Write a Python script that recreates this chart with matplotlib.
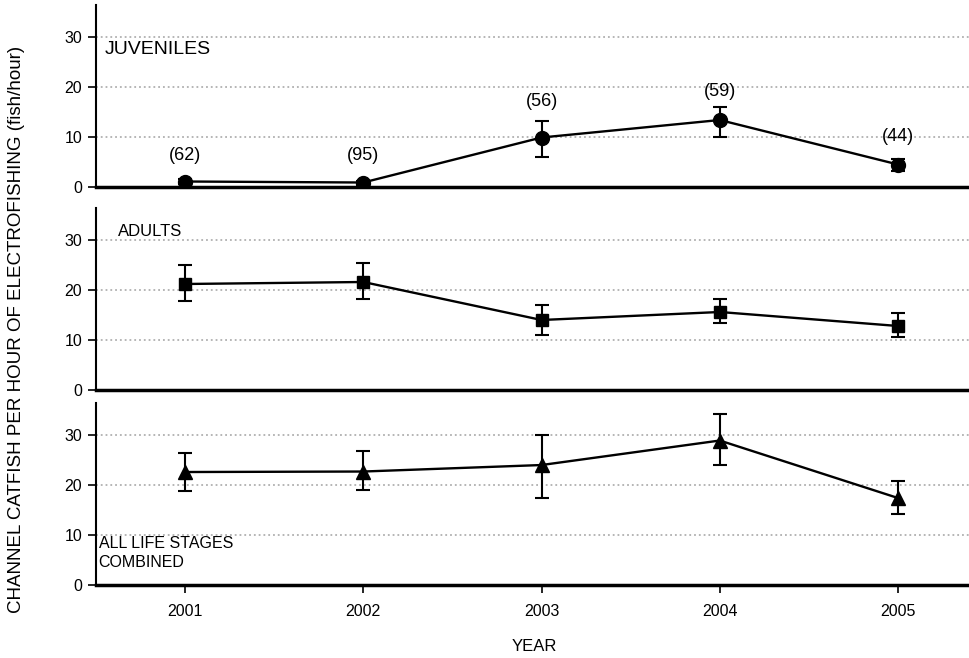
import matplotlib.pyplot as plt

plt.rcParams['font.family'] = ['Liberation Sans', 'DejaVu Sans']

years = [2001, 2002, 2003, 2004, 2005]

# juveniles
juv_mean = [1.1, 0.9, 9.9, 13.4, 4.5]
juv_low = [0.6, 0.5, 6.1, 10.1, 3.3]
juv_high = [1.6, 1.3, 13.3, 16.0, 5.6]
juv_n = ['(62)', '(95)', '(56)', '(59)', '(44)']
juv_n_y = [6.4, 6.4, 17.2, 19.2, 10.2]

# adults
adu_mean = [21.2, 21.6, 14.0, 15.6, 12.8]
adu_low = [17.7, 18.1, 10.9, 13.3, 10.5]
adu_high = [24.9, 25.4, 16.9, 18.1, 15.3]

# all life stages combined
all_mean = [22.6, 22.7, 24.0, 28.9, 17.4]
all_low = [18.8, 19.1, 17.5, 24.0, 14.3]
all_high = [26.4, 26.9, 30.1, 34.2, 20.8]

fig = plt.figure(figsize=(9.69, 6.58), dpi=100)
ax1 = fig.add_axes([0.099, 0.7158, 0.905, 0.2766])
ax2 = fig.add_axes([0.099, 0.4073, 0.905, 0.2766])
ax3 = fig.add_axes([0.099, 0.1109, 0.905, 0.2766])

panels = [
    (ax1, juv_mean, juv_low, juv_high, 'o', 10),
    (ax2, adu_mean, adu_low, adu_high, 's', 8),
    (ax3, all_mean, all_low, all_high, '^', 9.5),
]

for ax, m, lo, hi, mk, ms in panels:
    err = [[a - b for a, b in zip(m, lo)], [b - a for a, b in zip(m, hi)]]
    ax.errorbar(years, m, yerr=err, color='black', marker=mk, markersize=ms,
                linewidth=1.7, elinewidth=1.5, capsize=5, capthick=1.5, zorder=3)
    ax.set_ylim(0, 36.4)
    ax.set_xlim(2000.5, 2005.42)
    ax.set_yticks([0, 10, 20, 30])
    for g in [10, 20, 30]:
        ax.axhline(g, color='#b0b0b0', linestyle=':', linewidth=1.3, zorder=1)
    ax.spines['top'].set_visible(False)
    ax.spines['right'].set_visible(False)
    ax.spines['left'].set_linewidth(1.5)
    ax.spines['bottom'].set_linewidth(2.5)
    ax.tick_params(axis='y', direction='out', length=6, width=1.2, labelsize=11.5, pad=4)
    ax.set_xticks(years)

for ax in [ax1, ax2]:
    ax.tick_params(axis='x', length=0, labelbottom=False)

ax3.tick_params(axis='x', direction='out', length=6, width=1.2, labelsize=11.5, pad=8)

for x, y, s in zip(years, juv_n_y, juv_n):
    ax1.text(x, y, s, ha='center', va='center', fontsize=13)

ax1.text(0.01, 0.755, 'JUVENILES', transform=ax1.transAxes, fontsize=14, va='center')
ax2.text(0.025, 0.87, 'ADULTS', transform=ax2.transAxes, fontsize=12, va='center')
ax3.text(0.003, 0.08, 'ALL LIFE STAGES\nCOMBINED', transform=ax3.transAxes,
         fontsize=11.5, va='bottom', linespacing=1.4)

ax3.set_xlabel('YEAR', fontsize=12, labelpad=14)
fig.text(0.017, 0.5, 'CHANNEL CATFISH PER HOUR OF ELECTROFISHING (fish/hour)',
         rotation=90, ha='center', va='center', fontsize=13.5)

fig.savefig('out.png', dpi=100)
